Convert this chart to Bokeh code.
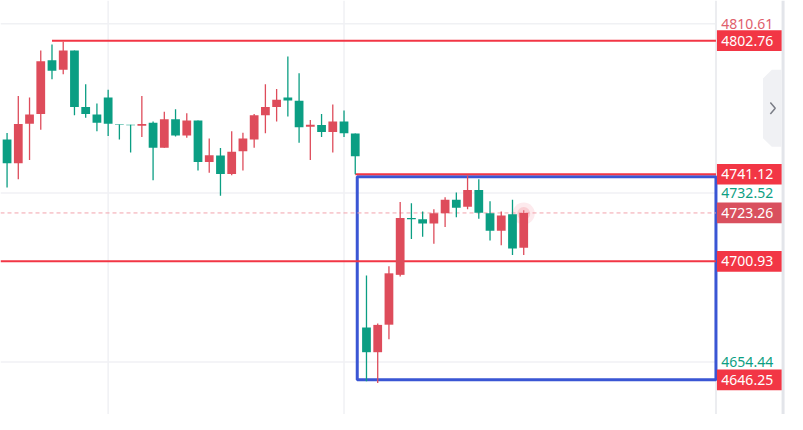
from bokeh.plotting import figure
from bokeh.models import Range1d
from bokeh.core.properties import value
from bokeh.embed import file_html
from bokeh.resources import INLINE

# ---------------- data ----------------
opens = [4757.2, 4746.2, 4764.4, 4768.9, 4793.7, 4789.3, 4798.2, 4772.1, 4768.7, 4776.5,
         4764.1, 4764.0, 4763.5, 4764.9, 4753.3, 4766.5, 4759.0, 4765.9, 4746.8, 4749.8,
         4741.2, 4751.7, 4757.2, 4768.3, 4772.1, 4776.5, 4775.0, 4763.0, 4763.8, 4760.6,
         4765.4, 4759.9, 4670.4, 4659.0, 4671.7, 4694.7, 4720.9, 4720.3, 4718.4, 4723.1,
         4729.3, 4726.1, 4733.8, 4723.1, 4715.1, 4722.7, 4707.2]
highs = [4760.1, 4777.2, 4776.5, 4798.2, 4801.0, 4802.3, 4798.2, 4782.6, 4773.8, 4780.1,
         4764.1, 4764.0, 4777.2, 4765.4, 4769.9, 4771.1, 4769.3, 4765.9, 4757.6, 4753.2,
         4761.0, 4760.3, 4768.9, 4782.6, 4780.4, 4795.4, 4787.7, 4766.1, 4768.9, 4773.3,
         4770.5, 4759.9, 4694.4, 4672.2, 4698.7, 4728.3, 4727.7, 4723.9, 4725.0, 4730.5,
         4732.7, 4740.5, 4738.8, 4728.7, 4723.9, 4729.3, 4724.5]
lows = [4735.0, 4738.8, 4747.7, 4761.6, 4785.0, 4787.2, 4768.3, 4767.2, 4761.0, 4758.8,
        4757.2, 4751.2, 4758.3, 4738.3, 4753.3, 4758.5, 4757.9, 4742.8, 4741.8, 4731.2,
        4740.6, 4742.8, 4753.3, 4760.0, 4765.4, 4767.8, 4755.7, 4747.7, 4758.3, 4751.1,
        4758.3, 4741.1, 4645.6, 4644.8, 4665.0, 4693.9, 4711.2, 4712.3, 4709.0, 4716.8,
        4721.3, 4725.0, 4720.6, 4710.5, 4708.4, 4703.9, 4703.9]
closes = [4746.2, 4764.3, 4768.7, 4793.2, 4788.9, 4798.2, 4772.1, 4768.9, 4764.9, 4764.4,
          4763.8, 4763.7, 4764.3, 4753.3, 4766.5, 4759.0, 4765.9, 4746.8, 4749.9, 4741.2,
          4751.5, 4757.6, 4768.3, 4772.1, 4775.5, 4775.1, 4762.8, 4764.0, 4760.6, 4765.4,
          4760.0, 4749.4, 4659.0, 4671.6, 4695.4, 4720.9, 4720.4, 4718.4, 4723.1, 4729.3,
          4725.6, 4733.8, 4723.4, 4715.1, 4722.1, 4706.8, 4723.26]

grid_prices = [4810.61, 4732.52, 4654.44]          # price-axis tick values
grid_tick_colors = ["#E0606C", "#0E9F83", "#0E9F83"]
time_grid_idx = [9, 30]                             # vertical grid lines (bar index)

level_prices = [4802.76, 4741.12, 4700.93]          # horizontal red lines
level_start_idx = [4, 31, None]                     # None = from left edge
box_prices = [4646.25, 4740.0]                      # blue rectangle bottom / top
box_label_prices = [4802.76, 4741.12, 4700.93, 4646.25]
current_price = 4723.26

# ---------------- layout (reference pixels -> data) ----------------
W, H = 787, 414
REF_W, REF_H = 803, 430
X0, DX = 6.7, 11.46
P_REF, PY_REF, K = 4802.76, 41.7, 2.251


def xd(px):
    return (px - X0) / DX


def yd(py):
    return P_REF - (py - PY_REF) / K


RED = "#DE4C5B"
GREEN = "#0B9E83"
LINE_RED = "#F23645"
AXIS_X = xd(730)

p = figure(width=W, height=H,
           x_range=Range1d(xd(0), xd(REF_W)), y_range=Range1d(yd(REF_H), yd(0)),
           x_axis_type=None, y_axis_type=None, toolbar_location=None,
           output_backend="svg", min_border=0, outline_line_color=None,
           background_fill_color="white", border_fill_color="white")

# grid
n = len(grid_prices)
p.segment(x0=[xd(0)] * n, y0=grid_prices, x1=[AXIS_X] * n, y1=grid_prices,
          line_color="#F0F1F4", line_width=1.5)
m = len(time_grid_idx)
p.segment(x0=time_grid_idx, y0=[yd(REF_H)] * m, x1=time_grid_idx, y1=[yd(0)] * m,
          line_color="#F0F1F4", line_width=1.5)

# price axis separators
p.segment(x0=[AXIS_X], y0=[yd(REF_H)], x1=[AXIS_X], y1=[yd(0)],
          line_color="#ECEDF0", line_width=2)
p.segment(x0=[xd(798.5)], y0=[yd(REF_H)], x1=[xd(798.5)], y1=[yd(0)],
          line_color="#E3E5EA", line_width=3)

# blue rectangle
p.quad(left=[xd(364)], right=[AXIS_X], bottom=[box_prices[0]], top=[box_prices[1]],
       fill_color=None, line_color="#3A56D4", line_width=3)

# horizontal levels
x0s = [xd(0) if s is None else s for s in level_start_idx]
p.segment(x0=x0s, y0=level_prices, x1=[AXIS_X] * len(level_prices), y1=level_prices,
          line_color=LINE_RED, line_width=2)

# current price dashed line
p.segment(x0=[xd(0)], y0=[current_price], x1=[AXIS_X], y1=[current_price],
          line_color="#F2A3AC", line_width=1, line_dash="4 3")

# candles
idx = list(range(len(opens)))
colors = [RED if c >= o else GREEN for o, c in zip(opens, closes)]
tops = [max(o, c) for o, c in zip(opens, closes)]
bots = [min(o, c) for o, c in zip(opens, closes)]
p.segment(x0=idx, y0=highs, x1=idx, y1=lows, line_color=colors, line_width=1.3)

# glow on the last bar
last = idx[-1]
p.scatter(x=[last, last], y=[highs[-1] - 1.5, highs[-1] - 1.5], size=[22, 13],
          marker="circle", fill_color="#F48D99", fill_alpha=[0.18, 0.3], line_color=None)

p.vbar(x=idx, width=0.78, top=tops, bottom=bots, fill_color=colors, line_color=None)

# collapse tab
p.patch(x=[xd(797), xd(787), xd(778), xd(778), xd(787), xd(797)],
        y=[yd(72), yd(72), yd(81), yd(143), yd(152), yd(152)],
        fill_color="#F0F1F4", line_color=None)
p.line(x=[xd(785.5), xd(790.5), xd(785.5)], y=[yd(106), yd(112), yd(118)],
       line_color="#7A7D86", line_width=1.5)

FONT = value("Noto Sans")
LABEL_X = xd(735.5)

# tick labels
p.text(x=[LABEL_X] * n, y=grid_prices, text=[f"{v:.2f}" for v in grid_prices],
       text_color=grid_tick_colors, text_font=FONT, text_font_size="14px",
       text_align="left", text_baseline="middle")

# level label boxes
bl = box_label_prices + [current_price]
box_cols = [LINE_RED] * len(box_label_prices) + ["#D9505E"]
bw = xd(797) - xd(731)
p.rect(x=[(xd(797) + xd(731)) / 2] * len(bl), y=bl, width=bw, height=21.5 / K,
       fill_color=box_cols, line_color=None)
p.text(x=[LABEL_X] * len(bl), y=bl, text=[f"{v:.2f}" for v in bl],
       text_color="white", text_font=FONT, text_font_size="14px",
       text_align="left", text_baseline="middle")

open("out.html", "w").write(file_html(p, INLINE))
